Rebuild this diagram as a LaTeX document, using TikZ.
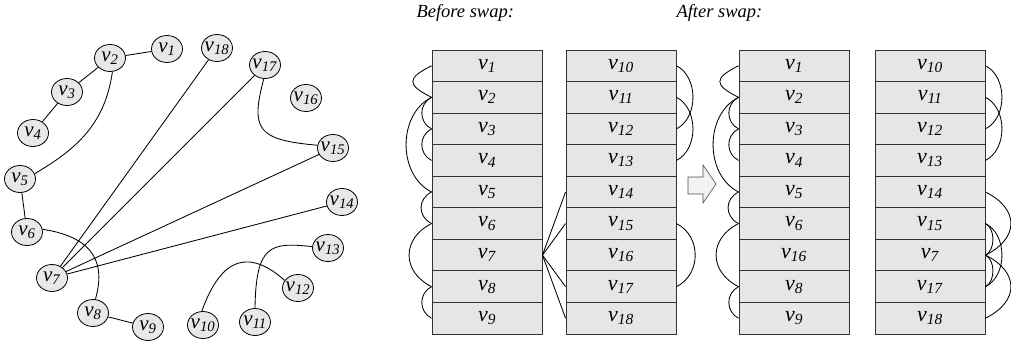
\documentclass[tikz,border=0pt]{standalone}
\usepackage{fontspec}
\setmainfont{Liberation Serif}
\usepackage{xcolor}
\definecolor{cellgray}{HTML}{E6E6E6}
\definecolor{nodegray}{HTML}{E8E8E8}
\definecolor{arrowgray}{HTML}{F2F2F2}
\definecolor{rulegray}{HTML}{333333}
\usetikzlibrary{shapes.geometric}
\newcommand{\vlab}[1]{\textit{v}\textsubscript{\textit{#1}}}

\begin{document}
\begin{tikzpicture}[x=1pt, y=1pt,
                    every node/.style={font=\fontsize{22}{24}\selectfont},
                    gnode/.style={ellipse, draw=black, fill=nodegray, line width=0.8pt,
                                  minimum width=31pt, minimum height=27pt,
                                  inner xsep=-7pt, inner ysep=-2pt,
                                  font=\fontsize{21}{23}\selectfont},
                    cell/.style={rectangle, draw=rulegray, fill=cellgray, line width=0.9pt,
                                 minimum width=110pt, minimum height=31.56pt, inner sep=0pt},
                    edge/.style={line width=0.85pt},
                    title/.style={anchor=west, font=\fontsize{18.5}{20}\selectfont\itshape}]

  \useasboundingbox (0,0) rectangle (1011,-340);

  %% graph: nodes on a circle
  \foreach \n/\x/\y in {1/167/49, 2/110/58, 3/67/92, 4/33/133, 5/20/179,
                        6/27/232, 7/52/278, 8/93/313, 9/148/327, 10/203/325,
                        11/255/322, 12/298/288, 13/328/248, 14/342/202,
                        15/333/148, 16/306/98, 17/265/65, 18/217/48}
    \node[gnode] (v\n) at (\x,-\y) {\vlab{\n}};

  %% graph: straight edges
  \foreach \a/\b in {1/2, 2/3, 3/4, 5/6, 8/9, 7/18, 7/17, 7/15, 7/14}
    \draw[edge] (v\a) -- (v\b);

  %% graph: curved edges
  \draw[edge] (v2.-80) .. controls (105,-125) and (75,-150) .. (v5.20);
  \draw[edge] (v6.10) .. controls (85,-236) and (108,-255) .. (v8.80);
  \draw[edge] (v17.-95) .. controls (250,-130) and (258,-140) .. (v15.170);
  \draw[edge] (v10.95) .. controls (222,-255) and (250,-250) .. (v12.150);
  \draw[edge] (v11.90) .. controls (256,-245) and (270,-242) .. (v13.175);

  %% titles
  \node[title] (before) at (413,-13) {Before swap:};
  \node[title] (after) at (673,-13) {After swap:};

  %% before swap
  \foreach \lab [count=\i] in {1,...,9}
    \node[cell] (bl\i) at (487,-34.2-31.56*\i) {\vlab{\lab}};
  \foreach \lab [count=\i] in {10,...,18}
    \node[cell] (br\i) at (621,-34.2-31.56*\i) {\vlab{\lab}};

  %% after swap
  \foreach \lab [count=\i] in {1,2,3,4,5,6,16,8,9}
    \node[cell] (al\i) at (794,-34.2-31.56*\i) {\vlab{\lab}};
  \foreach \lab [count=\i] in {10,11,12,13,14,15,7,17,18}
    \node[cell] (ar\i) at (930,-34.2-31.56*\i) {\vlab{\lab}};

  %% edges left of the first column (same in both)
  \foreach \a/\b/\d in {1/2/25, 2/3/13, 2/5/34, 3/4/13, 5/6/14, 6/8/30, 8/9/13} {
    \draw[edge] (bl\a.west) .. controls +(-\d,-0.5*\d) and +(-\d,0.5*\d) .. (bl\b.west);
    \draw[edge] (al\a.west) .. controls +(-\d,-0.5*\d) and +(-\d,0.5*\d) .. (al\b.west);
  }

  %% before: v7 across to the second column
  \foreach \b in {5,6,8,9}
    \draw[edge] (bl7.east) -- (br\b.west);

  %% before: right of the second column
  \foreach \a/\b/\d in {1/3/22, 2/4/22, 6/8/25}
    \draw[edge] (br\a.east) .. controls +(\d,-0.5*\d) and +(\d,0.5*\d) .. (br\b.east);

  %% after: right of the second column
  \foreach \a/\b/\d in {1/3/22, 2/4/22, 5/7/34, 6/7/10, 7/8/10, 6/8/22, 7/9/34}
    \draw[edge] (ar\a.east) .. controls +(\d,-0.5*\d) and +(\d,0.5*\d) .. (ar\b.east);

  %% swap arrow
  \filldraw[fill=arrowgray, draw=black!70, line width=0.6pt]
    (688,-177) -- (703,-177) -- (703,-165) -- (716,-184)
    -- (703,-203) -- (703,-194) -- (688,-194) -- cycle;

\end{tikzpicture}
\end{document}
